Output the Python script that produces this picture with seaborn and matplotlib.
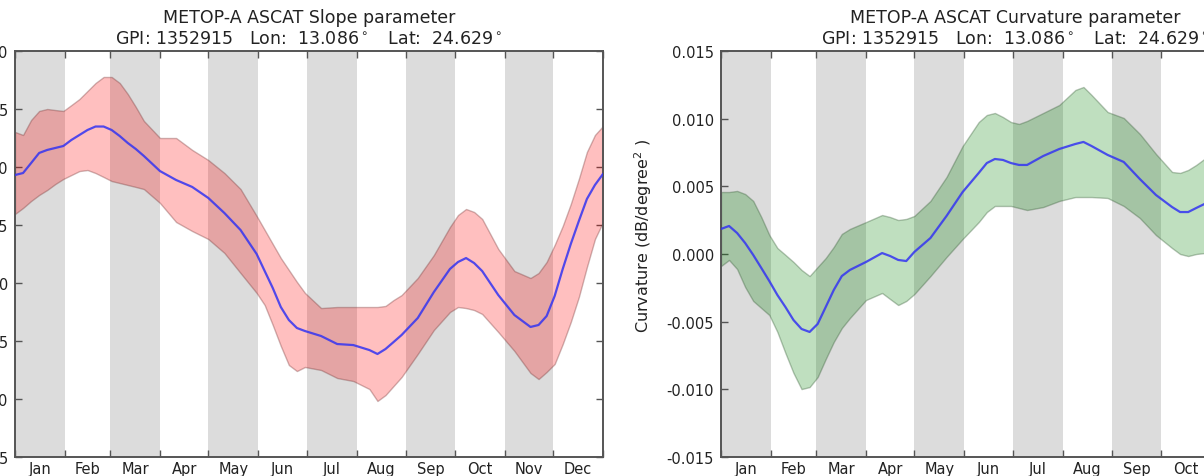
import numpy as np
import pandas as pd
import matplotlib
matplotlib.use("Agg")
import matplotlib.pyplot as plt
import matplotlib.ticker as mticker
import seaborn as sns

# ---------------- data ----------------
months = ["Jan", "Feb", "Mar", "Apr", "May", "Jun", "Jul", "Aug", "Sep", "Oct", "Nov", "Dec"]
month_days = [31, 28, 31, 30, 31, 30, 31, 31, 30, 31, 30, 31]

# Slope parameter (left panel), day of year
slope_day = [0, 5, 10, 15, 20, 25, 30, 35, 40, 45, 50, 55, 60, 65, 70, 75, 80,
             90, 100, 110, 120, 130, 140, 150, 155, 160, 165, 170, 175, 180,
             190, 200, 210, 220, 225, 230, 235, 240, 250, 260, 270, 275, 280, 285, 290,
             300, 310, 320, 325, 330, 335, 340, 345, 350, 355, 360, 365]
slope_mean = [-0.12069, -0.12052, -0.11966, -0.11879, -0.11853, -0.11836, -0.11819, -0.11767,
              -0.11724, -0.11681, -0.11651, -0.11651, -0.11681, -0.11733, -0.11793, -0.11845,
              -0.11905, -0.12035, -0.12112, -0.12172, -0.12267, -0.12397, -0.12543, -0.12750,
              -0.12897, -0.13043, -0.13207, -0.13319, -0.13388, -0.13414, -0.13457, -0.13526,
              -0.13535, -0.13578, -0.13612, -0.13569, -0.13509, -0.13448, -0.13302, -0.13078,
              -0.12879, -0.12819, -0.12785, -0.12828, -0.12897, -0.13104, -0.13276, -0.13379,
              -0.13362, -0.13285, -0.13112, -0.12879, -0.12664, -0.12466, -0.12276, -0.12155,
              -0.12060]
slope_upper = [-0.11698, -0.11724, -0.11595, -0.11517, -0.11500, -0.11509, -0.11517, -0.11466,
               -0.11414, -0.11345, -0.11276, -0.11224, -0.11224, -0.11276, -0.11371, -0.11483,
               -0.11603, -0.11750, -0.11750, -0.11853, -0.11940, -0.12052, -0.12190, -0.12422,
               -0.12543, -0.12664, -0.12785, -0.12888, -0.12991, -0.13086, -0.13216, -0.13207,
               -0.13207, -0.13207, -0.13207, -0.13198, -0.13147, -0.13104, -0.12957, -0.12759,
               -0.12517, -0.12414, -0.12362, -0.12388, -0.12448, -0.12707, -0.12897, -0.12957,
               -0.12914, -0.12819, -0.12672, -0.12509, -0.12319, -0.12103, -0.11871, -0.11724,
               -0.11647]
slope_lower = [-0.12405, -0.12353, -0.12293, -0.12241, -0.12198, -0.12147, -0.12103, -0.12069,
               -0.12035, -0.12026, -0.12052, -0.12086, -0.12121, -0.12138, -0.12155, -0.12172,
               -0.12190, -0.12310, -0.12474, -0.12552, -0.12621, -0.12741, -0.12914, -0.13086,
               -0.13190, -0.13362, -0.13543, -0.13707, -0.13759, -0.13724, -0.13750, -0.13819,
               -0.13845, -0.13914, -0.14017, -0.13966, -0.13888, -0.13810, -0.13612, -0.13405,
               -0.13250, -0.13207, -0.13216, -0.13233, -0.13267, -0.13423, -0.13586, -0.13776,
               -0.13828, -0.13767, -0.13698, -0.13526, -0.13336, -0.13121, -0.12862, -0.12621,
               -0.12474]

# Curvature parameter (right panel), day of year
curv_day = [0, 5, 10, 15, 20, 25, 30, 35, 40, 45, 50, 55, 60, 65, 70, 75, 80,
            90, 100, 105, 110, 115, 120, 130, 140, 150, 160, 165, 170, 175, 180, 185, 190,
            200, 210, 220, 225, 230, 240, 250, 260, 270, 280, 285, 290, 295, 300, 305]
curv_mean = [0.00185, 0.00207, 0.00155, 0.00081, -0.00007, -0.00103, -0.00200, -0.00303,
             -0.00392, -0.00488, -0.00554, -0.00576, -0.00517, -0.00392, -0.00266, -0.00163,
             -0.00118, -0.00059, 0.00007, -0.00015, -0.00044, -0.00052, 0.00015, 0.00118,
             0.00281, 0.00458, 0.00599, 0.00672, 0.00702, 0.00695, 0.00672, 0.00658, 0.00658,
             0.00724, 0.00776, 0.00813, 0.00828, 0.00798, 0.00732, 0.00680, 0.00554, 0.00436,
             0.00347, 0.00310, 0.00310, 0.00340, 0.00369, 0.00406]
curv_upper = [0.00458, 0.00458, 0.00466, 0.00443, 0.00392, 0.00273, 0.00140, 0.00044,
              -0.00007, -0.00059, -0.00118, -0.00163, -0.00096, -0.00030, 0.00052, 0.00148,
              0.00185, 0.00236, 0.00288, 0.00273, 0.00251, 0.00259, 0.00281, 0.00392,
              0.00569, 0.00798, 0.00975, 0.01027, 0.01042, 0.01012, 0.00975, 0.00961, 0.00983,
              0.01042, 0.01101, 0.01212, 0.01234, 0.01175, 0.01049, 0.01005, 0.00887, 0.00739,
              0.00606, 0.00599, 0.00621, 0.00658, 0.00702, 0.00746]
curv_lower = [-0.00089, -0.00044, -0.00111, -0.00244, -0.00347, -0.00399, -0.00451, -0.00576,
              -0.00732, -0.00879, -0.00998, -0.00983, -0.00909, -0.00776, -0.00650, -0.00547,
              -0.00473, -0.00340, -0.00288, -0.00333, -0.00377, -0.00347, -0.00296, -0.00163,
              -0.00022, 0.00111, 0.00236, 0.00310, 0.00355, 0.00355, 0.00355, 0.00340, 0.00325,
              0.00347, 0.00392, 0.00421, 0.00421, 0.00421, 0.00414, 0.00355, 0.00266, 0.00140,
              0.00044, 0.00000, -0.00015, 0.00000, 0.00007, 0.00022]

slope_ticks = [-0.145, -0.140, -0.135, -0.130, -0.125, -0.120, -0.115, -0.110]
curv_ticks = [-0.015, -0.010, -0.005, 0.000, 0.005, 0.010, 0.015]

title_slope = "METOP-A ASCAT Slope parameter\nGPI: 1352915   Lon:  13.086$^\\circ$   Lat:  24.629$^\\circ$"
title_curv = "METOP-A ASCAT Curvature parameter\nGPI: 1352915   Lon:  13.086$^\\circ$   Lat:  24.629$^\\circ$"
ylabel_slope = "Slope (dB/degree)"
ylabel_curv = "Curvature (dB/degree$^2$ )"

# ---------------- style ----------------
sns.set_theme(style="white")
plt.rcParams["font.family"] = ["DejaVu Sans"]
plt.rcParams["mathtext.fontset"] = "dejavusans"

W, H = 1204, 477
fig = plt.figure(figsize=(W / 100, H / 100), dpi=100)
fig.patch.set_facecolor("white")

ax_l = fig.add_axes([15 / W, (H - 458) / H, 588 / W, 406 / H])
ax_r = fig.add_axes([721 / W, (H - 458) / H, 588 / W, 406 / H])

bounds = np.concatenate([[0], np.cumsum(month_days)])
centers = (bounds[:-1] + bounds[1:]) / 2.0


def style_axes(ax, ylim, yticks, title):
    for i in range(0, 12, 2):
        ax.axvspan(bounds[i], bounds[i + 1], color="#dcdcdc", lw=0, zorder=0)
    ax.set_xlim(0, 365)
    ax.set_ylim(*ylim)
    ax.xaxis.set_major_locator(mticker.FixedLocator(bounds))
    ax.xaxis.set_major_formatter(mticker.NullFormatter())
    ax.xaxis.set_minor_locator(mticker.FixedLocator(centers))
    ax.xaxis.set_minor_formatter(mticker.FixedFormatter(months))
    ax.set_yticks(yticks)
    ax.yaxis.set_major_formatter(mticker.FormatStrFormatter("%.3f"))
    ax.tick_params(axis="x", which="major", direction="in", length=5, width=1,
                   color="#555555", top=True, bottom=True)
    ax.tick_params(axis="x", which="minor", length=0, pad=3, labelsize=10.5,
                   labelcolor="#222222")
    ax.tick_params(axis="y", which="major", direction="in", length=5, width=1,
                   color="#555555", left=True, right=True, pad=5, labelsize=10.5,
                   labelcolor="#222222")
    for s in ax.spines.values():
        s.set_visible(True)
        s.set_color("#555555")
        s.set_linewidth(1.4)
    ax.set_title(title, fontsize=12.5, color="#222222", pad=6, linespacing=1.2)
    ax.grid(False)


def draw_panel(ax, df, fill_rgba, edge_rgba):
    ax.fill_between(df["day"], df["lower"], df["upper"], facecolor=fill_rgba,
                    edgecolor=edge_rgba, lw=1.0, zorder=2)
    sns.lineplot(data=df, x="day", y="mean", ax=ax, color=(0.2, 0.2, 0.95), alpha=0.85,
                 lw=1.6, zorder=3)
    ax.set_xlabel("")


# left panel
df_s = pd.DataFrame({"day": slope_day, "mean": slope_mean,
                     "upper": slope_upper, "lower": slope_lower})
style_axes(ax_l, (-0.145, -0.110), slope_ticks, title_slope)
draw_panel(ax_l, df_s, (1.0, 0.0, 0.0, 0.25), (0.45, 0.2, 0.2, 0.35))
ax_l.set_ylabel(ylabel_slope, fontsize=11.5, color="#222222")

# right panel
df_c = pd.DataFrame({"day": curv_day, "mean": curv_mean,
                     "upper": curv_upper, "lower": curv_lower})
style_axes(ax_r, (-0.015, 0.015), curv_ticks, title_curv)
draw_panel(ax_r, df_c, (0.0, 0.5, 0.0, 0.25), (0.2, 0.35, 0.2, 0.35))
ax_r.set_ylabel(ylabel_curv, fontsize=11.5, color="#222222")
ax_r.yaxis.set_label_coords(-0.114, 0.547)

fig.savefig("out.png", dpi=100, facecolor="white")
